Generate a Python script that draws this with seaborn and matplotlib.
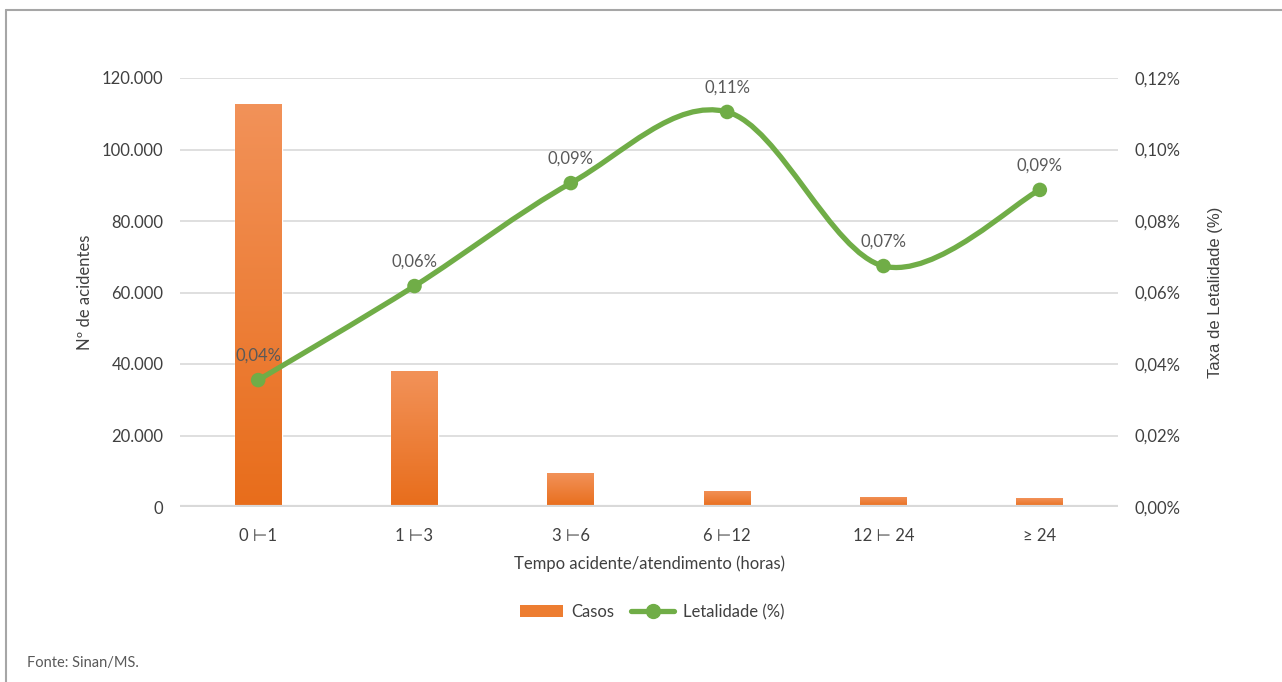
import numpy as np
import pandas as pd
import seaborn as sns
import matplotlib.pyplot as plt
from matplotlib.path import Path
from matplotlib.patches import PathPatch, Patch
from matplotlib.lines import Line2D
from matplotlib.ticker import FuncFormatter
from matplotlib.colors import LinearSegmentedColormap

# data
categorias = ['0 ⊢1', '1 ⊢3', '3 ⊢6', '6 ⊢12', '12 ⊢ 24', '≥ 24']
casos = [112700, 38000, 9500, 4500, 2800, 2500]
letalidade = [0.0355, 0.0618, 0.0906, 0.1105, 0.0674, 0.0887]
rotulos = ['0,04%', '0,06%', '0,09%', '0,11%', '0,07%', '0,09%']

df = pd.DataFrame({'Tempo': categorias, 'Casos': casos, 'Letalidade': letalidade})

sns.set_theme(style='white')
plt.rcParams['font.family'] = ['Lato', 'DejaVu Sans']

TXT = '#404040'
GRID = '#D9D9D9'
GREEN = '#70AD47'
FS = 12

fig = plt.figure(figsize=(12.82, 6.82), dpi=100)
ax = fig.add_axes([180 / 1282, 1 - 507 / 682, 938 / 1282, 429 / 682])

sns.barplot(data=df, x='Tempo', y='Casos', color='#ED7D31', width=0.3,
            saturation=1, ax=ax, zorder=2)

# vertical gradient on the bars, like the original
grad = np.linspace(0, 1, 256).reshape(-1, 1)
cmap = LinearSegmentedColormap.from_list('g', ['#E86D1B', '#F29259'])
for p in ax.patches:
    x0, y0 = p.get_x(), p.get_y()
    w, h = p.get_width(), p.get_height()
    im = ax.imshow(grad, extent=[x0, x0 + w, y0, y0 + h], origin='lower',
                   cmap=cmap, aspect='auto', zorder=2.5)
    im.set_clip_path(p)

ax.set_xlim(-0.5, 5.5)
ax.set_ylim(0, 120000)
ax.set_yticks(np.arange(0, 120001, 20000))
ax.yaxis.set_major_formatter(FuncFormatter(lambda v, _: f'{int(v):,}'.replace(',', '.')))
ax.grid(axis='y', color=GRID, linewidth=1.2, zorder=0)
ax.axhline(0, color=GRID, linewidth=3, zorder=3)
for s in ax.spines.values():
    s.set_visible(False)
ax.tick_params(axis='both', length=0, labelsize=FS, colors=TXT)
ax.tick_params(axis='y', pad=12)
ax.tick_params(axis='x', pad=15)
ax.set_ylabel('Nº de acidentes', fontsize=FS, color=TXT, labelpad=6)
ax.set_xlabel('Tempo acidente/atendimento (horas)', fontsize=FS, color=TXT, labelpad=8)

# secondary axis: smoothed line (Excel style, Catmull-Rom through the points)
ax2 = ax.twinx()
ax2.set_ylim(0, 0.12)
ax2.set_yticks(np.arange(0, 0.1201, 0.02))
ax2.yaxis.set_major_formatter(FuncFormatter(lambda v, _: f'{v:.2f}%'.replace('.', ',')))
for s in ax2.spines.values():
    s.set_visible(False)
ax2.tick_params(axis='y', length=0, labelsize=FS, colors=TXT, pad=12)
ax2.set_ylabel('Taxa de Letalidade (%)', fontsize=FS, color=TXT, labelpad=20,
               family='Liberation Sans')

xs = np.arange(len(categorias), dtype=float)
ys = np.array(letalidade)
pts = np.column_stack([xs, ys])
verts = [pts[0]]
codes = [Path.MOVETO]
n = len(pts)
for i in range(n - 1):
    p0 = pts[max(i - 1, 0)]
    p1 = pts[i]
    p2 = pts[i + 1]
    p3 = pts[min(i + 2, n - 1)]
    c1 = p1 + (p2 - p0) / 6
    c2 = p2 - (p3 - p1) / 6
    verts += [c1, c2, p2]
    codes += [Path.CURVE4] * 3
ax2.add_patch(PathPatch(Path(verts, codes), facecolor='none', edgecolor=GREEN,
                        linewidth=3.8, capstyle='round', zorder=4))
sns.scatterplot(x=xs, y=ys, ax=ax2, color=GREEN, s=110, edgecolor='none', zorder=5)

for x, y, r in zip(xs, ys, rotulos):
    ax2.annotate(r, (x, y), xytext=(0, 12), textcoords='offset points',
                 ha='center', va='bottom', fontsize=FS, color='#595959')

handles = [Patch(facecolor='#ED7D31', edgecolor='none'),
           Line2D([0], [0], color=GREEN, lw=3.8, marker='o', markersize=10)]
fig.legend(handles, ['Casos', 'Letalidade (%)'], loc='center', ncol=2,
           bbox_to_anchor=(652 / 1282, 1 - 612 / 682), frameon=False,
           fontsize=FS, labelcolor=TXT, handlelength=2.6, columnspacing=1.0,
           handletextpad=0.5)

fig.text(27 / 1282, 1 - 663 / 682, 'Fonte: Sinan/MS.', fontsize=10.5, color='#595959',
         va='center')

# outer frame lines (top and left)
fig.add_artist(Line2D([6 / 1282, 1], [1 - 10 / 682, 1 - 10 / 682], color='#A6A6A6',
                      lw=1.5, transform=fig.transFigure))
fig.add_artist(Line2D([6 / 1282, 6 / 1282], [0, 1 - 10 / 682], color='#A6A6A6',
                      lw=1.5, transform=fig.transFigure))

fig.savefig('out.png', dpi=100, facecolor='white')
